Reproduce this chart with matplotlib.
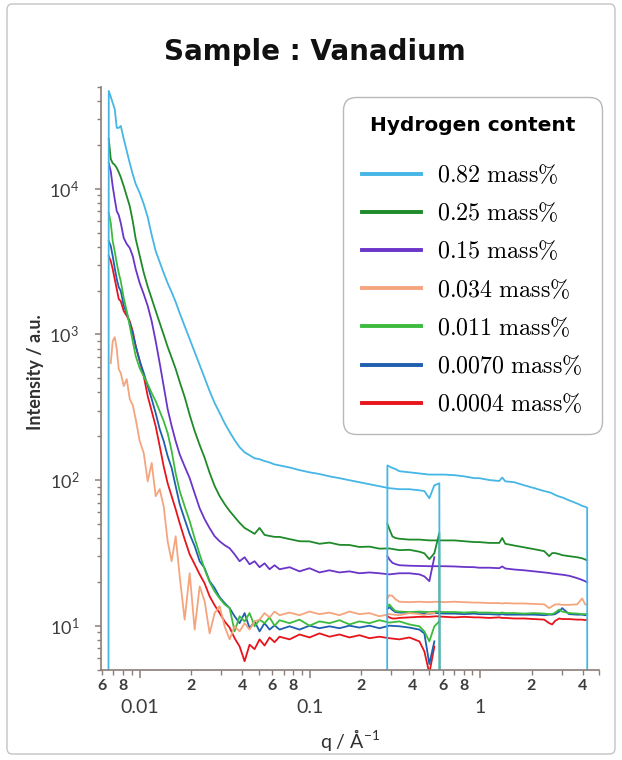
import numpy as np
import matplotlib
matplotlib.use('Agg')
import matplotlib.pyplot as plt
from matplotlib.ticker import LogLocator, FuncFormatter, NullFormatter, FixedLocator
from matplotlib.patches import FancyBboxPatch
from matplotlib.font_manager import FontProperties

plt.rcParams['font.family'] = ['Lato', 'DejaVu Sans']
plt.rcParams['mathtext.fontset'] = 'cm'

nan = float('nan')

# ---------------- data ----------------
labels = ['0.82 mass%', '0.25 mass%', '0.15 mass%', '0.034 mass%',
          '0.011 mass%', '0.0070 mass%', '0.0004 mass%']
colors = ['#45b6e6', '#1f8a2a', '#6a35c8', '#f4a57e', '#3dbb3d', '#1f5fb0', '#e8141c']

# low-q detector bank
q_low = [0.00655, 0.00658, 0.00676, 0.00694, 0.00713, 0.00733, 0.00753, 0.00774,
         0.00806, 0.00839, 0.00874, 0.00910, 0.00947,
         0.0100, 0.01056, 0.01114, 0.01176, 0.01241, 0.01310, 0.01383, 0.01459,
         0.01540, 0.01626, 0.01717,
         0.01836, 0.01965, 0.02102, 0.02249, 0.02406, 0.02574, 0.02754, 0.02946,
         0.03152, 0.03373, 0.03608, 0.03860, 0.04130, 0.04418, 0.04727, 0.05057,
         0.05410, 0.05788, 0.06193, 0.06625,
         0.07583, 0.08679, 0.0993, 0.1137, 0.1301, 0.1489, 0.1705, 0.1951,
         0.2234, 0.2556, 0.2926, 0.3349, 0.3833, 0.4387,
         0.4694, 0.5022, 0.5373, 0.5748, 0.578]

I_low_082 = [1, 47000, 42800, 38900, 35400, 26200, 26200, 27000, 22000, 18200, 15000, 12600, 10800,
             9360, 7860, 6400, 4810, 3740, 3140, 2640, 2250, 1950, 1670, 1400,
             1140, 930, 757, 617, 502, 408, 338, 289, 246, 214, 188, 168, 155, 148, 141, 139,
             135, 132, 128, 126,
             122, 117, 113, 110, 106, 103, 99.7, 96.6, 93.6, 90.7, 87.9, 86.5, 86.5, 85,
             84, 75, 92, 95, 1]
I_low_025 = [nan, 22000, 16000, 15000, 14600, 13900, 13000, 12000, 10400, 8900, 7600, 6000, 4530,
             3470, 2650, 2130, 1760, 1450, 1200, 994, 822, 692, 580, 472,
             372, 280, 217, 174, 142, 112, 91, 77.6, 68.4, 61.3, 55.8, 50.8, 46.9, 44.8, 42.7, 46.9,
             42, 41.3, 40.7, 40.7,
             39.3, 38.0, 37.9, 36.5, 37.2, 35.9, 35.8, 34.7, 34.9, 33.8, 33.9, 33.0, 33.2, 32.2,
             31.4, 28.6, 31.4, 43.4, 1]
I_low_015 = [nan, 15000, 13200, 10400, 8510, 7030, 6600, 5820, 4590, 4180, 3920, 3450, 2810,
             2250, 1890, 1570, 1230, 899, 635, 441, 307, 235, 185, 150,
             124, 103, 81, 64, 53.8, 46.7, 41.1, 38, 35.7, 34, 30.9, 27.7, 29.5, 26.4, 27.7, 25.2,
             26.8, 24.4, 26, 24.4,
             25.2, 23.6, 24.8, 23.2, 24, 23.2, 23.6, 22.9, 23.2, 22.9, 22.5, 22.9, 22.9, 22.5,
             21.8, 20.2, 29.5, nan, nan]
I_low_0034 = [nan, nan, 635, 899, 958, 792, 578, 542, 442, 493, 360, 327, 262,
              185, 153, 98, 131, 77.4, 86.5, 66, 38, 27.7, 41.1, 21.8,
              11.0, 22.9, 9.4, 18.6, 14.7, 8.85, 12.2, 13.6, 9.9, 8.05, 9.9, 9.14, 10.4, 9.4, 10.7, 11.0,
              12.2, 11.4, 12.5, 11.8,
              12.3, 11.8, 12.5, 12.0, 12.3, 11.8, 12.5, 12.0, 12.2, 11.6, 12.0, 11.8, 12.2, 12.0,
              11.8, 12.2, 12.2, nan, nan]
I_low_0011 = [nan, 6820, 5820, 4370, 3730, 3090, 2640, 2320, 1770, 1445, 1140, 899, 710,
              586, 516, 455, 395, 348, 297, 254, 210, 158, 111, 84,
              66, 52.2, 39.8, 30.9, 24.4, 19.9, 17.2, 15.4, 14.0, 13.2, 9.14, 11.6, 10.7, 12.2, 9.9, 11.0,
              10.4, 11.4, 10.0, 10.9,
              10.4, 11.0, 10.0, 10.7, 10.4, 10.9, 10.2, 10.7, 10.4, 10.9, 10.5, 10.7, 10.2, 9.9,
              9.14, 7.8, 9.9, 10.7, nan]
I_low_0007 = [nan, 4370, 4040, 3450, 2860, 2400, 2110, 1990, 1570, 1400, 1200, 1010, 832,
              656, 543, 442, 360, 288, 224, 185, 146, 121, 90.7, 68.3,
              53.8, 42.5, 35.2, 27.7, 24.8, 20.2, 18.1, 15.7, 14.3, 13.2, 11.6, 10.4, 12.2, 9.6, 10.7, 9.14,
              10.4, 9.4, 10.05, 9.4,
              9.9, 9.4, 10.0, 9.6, 9.9, 9.6, 10.0, 9.7, 10.0, 9.6, 10.0, 9.9, 9.7, 9.4,
              8.85, 5.45, 7.8, nan, nan]
I_low_00004 = [nan, 3450, 3190, 2810, 2400, 2050, 1750, 1690, 1445, 1340, 1230, 1050, 832,
               656, 517, 377, 297, 234, 171, 124, 95, 77.4, 63, 50.5,
               39.2, 30.9, 26.4, 22.5, 19.5, 15.9, 13.8, 12.2, 10.7, 9.7, 8.2, 7.2, 5.7, 7.4, 6.9, 8.05,
               7.3, 8.3, 7.7, 8.4,
               8.05, 8.7, 8.3, 8.85, 8.4, 8.7, 8.3, 8.6, 8.2, 8.4, 8.2, 8.05, 8.3, 7.8,
               6.66, 4.7, 7.2, nan, nan]

# high-q detector bank
q_high = [0.2835, 0.2848, 0.2926, 0.3048, 0.3172, 0.3349, 0.3833, 0.4387, 0.5022, 0.5520,
          0.6151, 0.7040, 0.8058, 0.9222, 0.9865, 1.129, 1.292, 1.346, 1.402, 1.583,
          1.812, 2.073, 2.373, 2.539, 2.644, 2.754, 2.906, 3.027, 3.327, 3.707,
          3.965, 4.129, 4.243, 4.25]

I_high_082 = [1, 126, 124, 121, 119, 115, 113, 111, 109, 109, 109, 108, 106, 103, 103, 100, 98.5,
              104, 98, 96.6, 92, 88, 84, 82.5, 81, 79, 77, 76, 72.5, 69, 66.5, 65.5, 64.5, 1]
I_high_025 = [nan, 50, 46, 41, 40, 39.5, 39, 39, 38.5, 38.5, 38.5, 38.5, 38, 37.5, 37.5, 37, 37,
              40, 36.5, 35.5, 34.5, 33.5, 32.5, 30, 31.5, 31.5, 31, 30.5, 30, 29.5, 29, 28.5, 28, nan]
I_high_015 = [nan, 30, 28.5, 27, 26.5, 26, 25.8, 25.7, 25.6, 25.6, 25.6, 25.5, 25.3, 25.2, 25, 25,
              24.8, 25.5, 24.7, 24.3, 24, 23.6, 23.2, 23, 22.8, 22.7, 22.5, 22.4, 22, 21.2, 20.6,
              20.2, 19.8, nan]
I_high_0034 = [nan, 15.4, 16.2, 16.0, 15.2, 14.6, 14.5, 14.6, 14.5, 14.6, 14.5, 14.6, 14.5, 14.4,
               14.4, 14.3, 14.3, 14.2, 14.3, 14.2, 14.2, 14.1, 14.0, 13.2, 13.6, 14.0, 14.0, 13.9,
               13.9, 14.0, 15.4, 14.0, 14.0, nan]
I_high_0011 = [nan, 13.5, 14.0, 13.2, 12.6, 12.5, 12.4, 12.5, 12.4, 12.5, 12.4, 12.4, 12.3, 12.4,
               12.3, 12.3, 12.2, 12.3, 12.2, 12.2, 12.1, 12.2, 12.1, 12.0, 12.0, 12.3, 12.9, 12.5,
               12.2, 12.1, 12.0, 12.0, 12.0, nan]
I_high_0007 = [nan, 13.0, 13.4, 12.8, 12.4, 12.3, 12.2, 12.2, 12.1, 12.2, 12.1, 12.1, 12.0, 12.1,
               12.0, 12.0, 11.9, 12.0, 11.9, 11.9, 11.9, 11.9, 11.8, 11.9, 11.9, 12.0, 12.5, 13.2,
               12.0, 11.9, 11.9, 11.8, 11.9, nan]
I_high_00004 = [nan, 11.6, 11.4, 11.2, 11.2, 11.3, 11.4, 11.5, 11.5, 11.6, 11.5, 11.4, 11.5, 11.4,
                11.4, 11.3, 11.4, 11.3, 11.3, 11.2, 11.2, 11.1, 11.0, 10.4, 10.2, 10.8, 11.2, 11.1,
                11.1, 11.0, 11.0, 10.9, 11.0, nan]

low_sets = [I_low_082, I_low_025, I_low_015, I_low_0034, I_low_0011, I_low_0007, I_low_00004]
high_sets = [I_high_082, I_high_025, I_high_015, I_high_0034, I_high_0011, I_high_0007, I_high_00004]

# ---------------- figure ----------------
W, H = 622, 760
fig = plt.figure(figsize=(W / 100, H / 100), dpi=100)
fig.patch.set_facecolor('white')

frame = FancyBboxPatch((7 / W, 6 / H), 608 / W, 750 / H,
                       boxstyle='round,pad=0,rounding_size=0.008',
                       transform=fig.transFigure, facecolor='white',
                       edgecolor='#c4c4c4', linewidth=1.0, zorder=-10)
fig.patches.append(frame)

L, R, B, T = 100.7, 599.3, 669.5, 87.0
ax = fig.add_axes([L / W, (H - B) / H, (R - L) / W, (B - T) / H])
ax.set_xscale('log')
ax.set_yscale('log')
ax.set_xlim(5.9e-3, 5.0)
ax.set_ylim(5, 5e4)

handles = {}
for i in reversed(range(len(labels))):
    l1, = ax.plot(q_low, low_sets[i], color=colors[i], lw=1.3, label=labels[i])
    ax.plot(q_high, high_sets[i], color=colors[i], lw=1.3)
    handles[i] = l1

for s in ['top', 'right']:
    ax.spines[s].set_visible(False)
spine_c = '#8a7d78'
for s in ['left', 'bottom']:
    ax.spines[s].set_color(spine_c)
    ax.spines[s].set_linewidth(1.2)

# ticks
ax.xaxis.set_major_locator(FixedLocator([0.01, 0.1, 1]))
ax.xaxis.set_minor_locator(LogLocator(base=10, subs=np.arange(2, 10)))
ax.xaxis.set_major_formatter(FuncFormatter(lambda v, p: f'{v:g}'))


def minor_fmt(v, p):
    m = v / 10 ** np.floor(np.log10(v) + 1e-9)
    k = int(round(m))
    return str(k) if k in (2, 4, 6, 8) else ''


ax.xaxis.set_minor_formatter(FuncFormatter(minor_fmt))
ax.yaxis.set_major_locator(LogLocator(base=10, numticks=10))
ax.yaxis.set_minor_locator(LogLocator(base=10, subs=np.arange(2, 10), numticks=10))
ax.yaxis.set_minor_formatter(NullFormatter())

tc = '#3c3c3c'
ax.tick_params(axis='x', which='major', length=6, width=1.1, color=spine_c,
               labelsize=14, labelcolor=tc, pad=15)
ax.tick_params(axis='x', which='minor', length=3.6, width=1.0, color=spine_c,
               labelsize=11.5, labelcolor=tc, pad=3)
ax.tick_params(axis='y', which='major', length=4.5, width=1.1, color=spine_c,
               labelsize=13, labelcolor=tc, pad=11)
ax.tick_params(axis='y', which='minor', length=3, width=1.0, color=spine_c)
for lab in ax.get_xticklabels(minor=True):
    lab.set_fontweight('bold')

ax.set_xlabel(r'q / Å$^{\mathdefault{-1}}$', fontsize=14, color='#303030')
ax.xaxis.label.set_va('center')
ax.xaxis.set_label_coords(0.5, (B - 740) / (B - T))
ax.set_ylabel('Intensity / a.u.', fontsize=13, fontweight='bold', color='#303030')
ax.yaxis.label.set_va('center')
ax.yaxis.set_label_coords((35 - L) / (R - L), 0.51)

fig.text(314.5 / W, (H - 60) / H, 'Sample : Vanadium', ha='center', va='baseline',
         fontsize=20, fontweight='bold', family='DejaVu Sans', color='#111111')

leg_fs = 17.3
leg_labels = [r'$\mathrm{' + lab.replace(' ', r'\ ').replace('%', r'\%') + '}$' for lab in labels]
leg = ax.legend([handles[i] for i in range(len(labels))], leg_labels,
                title='Hydrogen content', loc='upper left',
                bbox_to_anchor=(342.7 / W, (H - 97) / H), bbox_transform=fig.transFigure,
                borderaxespad=0,
                prop=FontProperties(size=leg_fs),
                title_fontproperties=FontProperties(family='DejaVu Sans', weight='bold', size=14.5),
                handlelength=2.45, handletextpad=0.68, labelspacing=0.6, borderpad=0.8,
                frameon=True, fancybox=True, framealpha=1, edgecolor='#b8b8b8')
leg._legend_box.sep = 19.6
leg.get_frame().set_boxstyle('round,pad=0,rounding_size=0.55')
leg.get_frame().set_linewidth(1.0)
for h in leg.legend_handles:
    h.set_linewidth(2.8)

fig.savefig('out.png', dpi=100)
